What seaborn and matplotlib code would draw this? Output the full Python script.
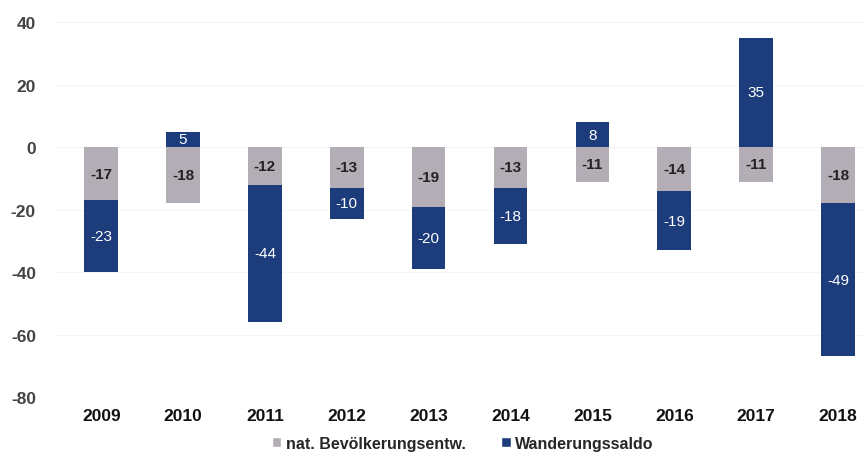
import numpy as np
import pandas as pd
import matplotlib
matplotlib.use("Agg")
import matplotlib.pyplot as plt
from matplotlib.patches import Patch
import seaborn as sns

years = ["2009", "2010", "2011", "2012", "2013", "2014", "2015", "2016", "2017", "2018"]
natural = [-17, -18, -12, -13, -19, -13, -11, -14, -11, -18]
migration = [-23, 5, -44, -10, -20, -18, 8, -19, 35, -49]

GREY = "#b3aeb6"
NAVY = "#1d3c7c"

sns.set_theme(style="white")
plt.rcParams["font.family"] = ["Liberation Sans", "DejaVu Sans"]
plt.rcParams["axes.unicode_minus"] = False

df = pd.DataFrame({"year": years, "natural": natural, "migration": migration})
# negative migration stacks below the natural change, positive starts at zero
df["mig_bottom"] = np.where(df["migration"] < 0, df["natural"], 0)

fig = plt.figure(figsize=(8.65, 4.64), dpi=100)
ax = fig.add_axes([0.064, 0.142, 0.936, 0.808])

sns.barplot(data=df, x="year", y="natural", order=years, color=GREY,
            width=0.41, errorbar=None, saturation=1, ax=ax, linewidth=0)
sns.barplot(data=df, x="year", y="migration", order=years, color=NAVY,
            width=0.41, errorbar=None, saturation=1, ax=ax, linewidth=0,
            bottom=df["mig_bottom"].to_numpy())

for i, row in df.iterrows():
    ax.text(i, row["natural"] / 2, f"{row['natural']}", ha="center", va="center",
            fontsize=11, fontweight="bold", color="#222222")
    ax.text(i, row["mig_bottom"] + row["migration"] / 2, f"{row['migration']}",
            ha="center", va="center", fontsize=11, color="white")

ax.set_ylim(-80, 40)
ax.set_xlim(-0.56, 9.33)
ax.set_yticks(range(-80, 41, 20))
ax.yaxis.grid(True, color="#f5f5f5", linewidth=0.8)
ax.set_axisbelow(True)
for s in ax.spines.values():
    s.set_visible(False)
ax.set_xlabel("")
ax.set_ylabel("")
ax.tick_params(axis="y", labelsize=12.5, labelcolor="#444444", pad=14, length=0)
ax.tick_params(axis="x", labelsize=12.5, labelcolor="#111111", pad=8, length=0)
for lab in ax.get_xticklabels() + ax.get_yticklabels():
    lab.set_fontweight("bold")

handles = [Patch(facecolor=GREY, label="nat. Bevölkerungsentw."),
           Patch(facecolor=NAVY, label="Wanderungssaldo")]
fig.legend(handles=handles, loc="lower center", bbox_to_anchor=(0.535, -0.005),
           ncol=2, frameon=False, handlelength=0.6, handleheight=0.6,
           handletextpad=0.3, columnspacing=2.2,
           prop={"weight": "bold", "size": 11.5})

fig.savefig("out.png", dpi=100)
